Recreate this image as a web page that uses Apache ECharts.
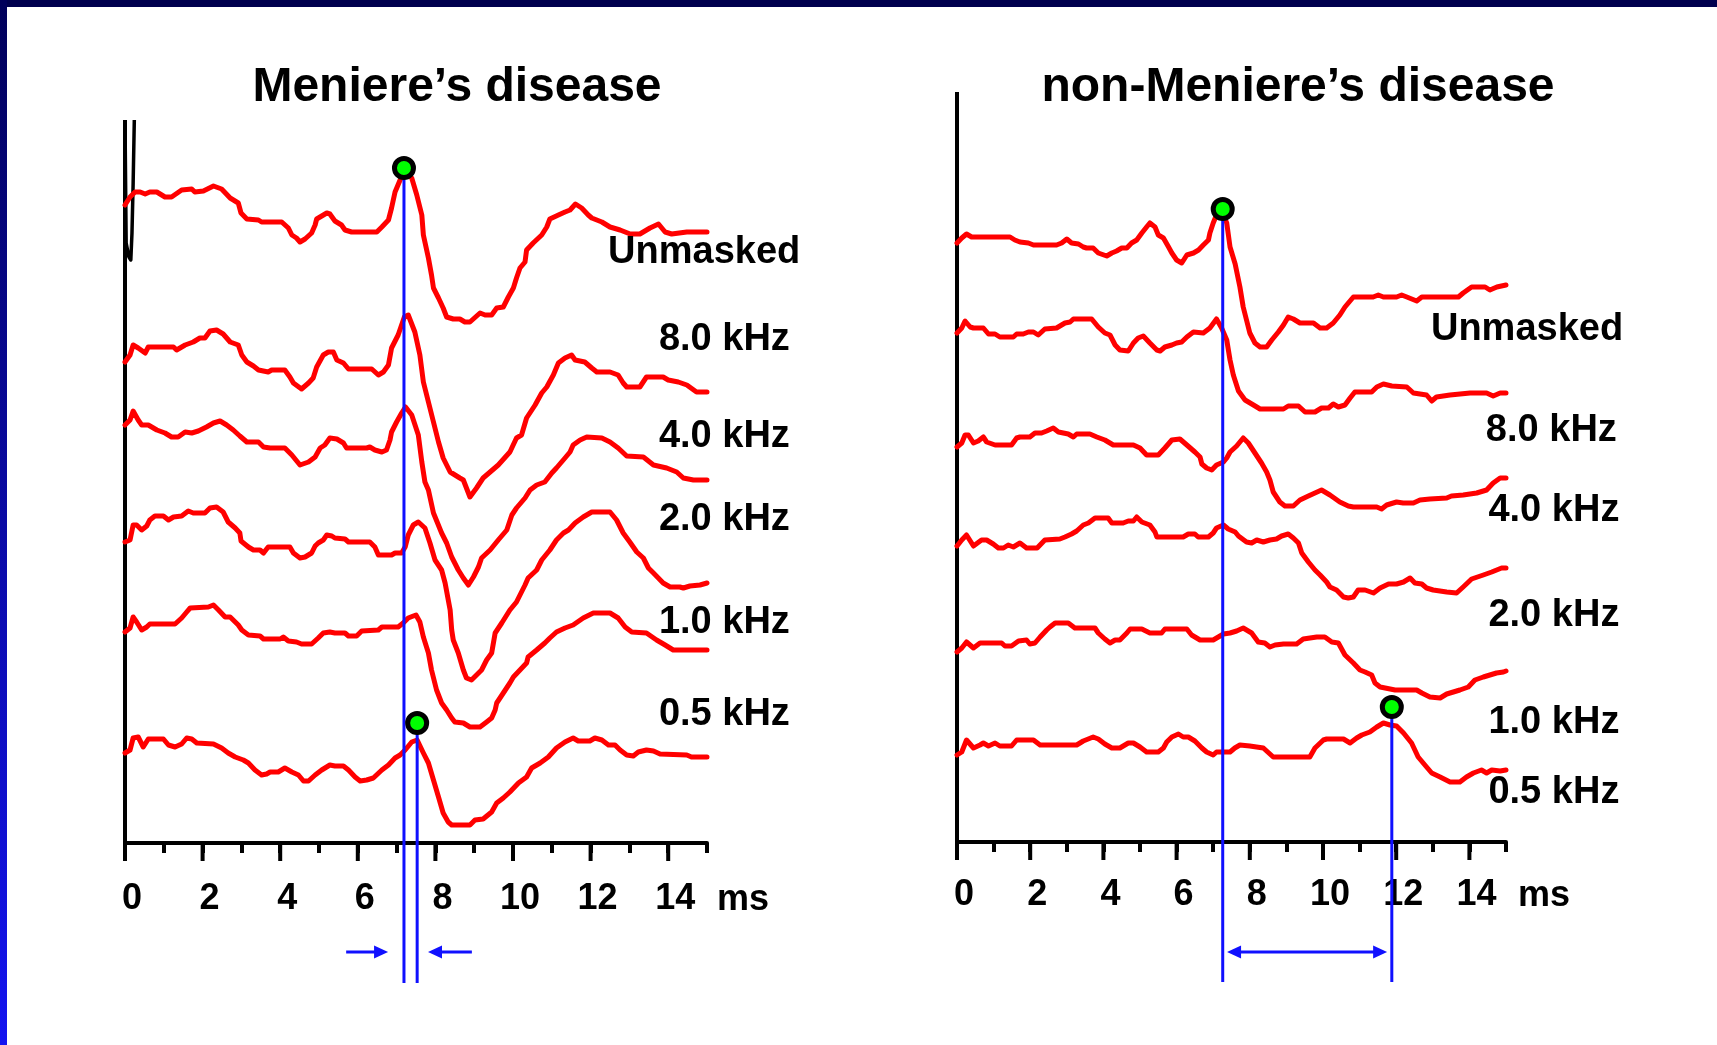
<!DOCTYPE html>
<html><head><meta charset="utf-8">
<script src="https://cdn.jsdelivr.net/npm/echarts/dist/echarts.min.js"></script>
<style>html,body{margin:0;padding:0;background:#fff;overflow:hidden}#c{width:1717px;height:1045px}</style>
</head><body><div id="c"></div>
<script>
// ---------- DATA (time in ms, amplitude in arbitrary units, traces stacked) ----------
const tickValues = [0, 2, 4, 6, 8, 10, 12, 14];
const traceLabels = ['Unmasked', '8.0 kHz', '4.0 kHz', '2.0 kHz', '1.0 kHz', '0.5 kHz'];
const panelTitles = ['Meniere\u2019s disease', 'non-Meniere\u2019s disease'];
const unitLabel = 'ms';

const mdUnmasked = [[0,63.8],[0.13,64.6],[0.26,65.1],[0.39,65.1],[0.52,64.9],[0.64,65.1],[0.82,65.1],[1.03,64.6],[1.2,64.6],[1.46,65.3],[1.72,65.4],[1.8,65.1],[2.02,65.2],[2.28,65.7],[2.49,65.4],[2.71,64.5],[2.92,64.0],[2.99,63.0],[3.14,62.4],[3.44,62.3],[3.52,62.1],[4.04,62.1],[4.21,61.5],[4.3,60.8],[4.42,60.5],[4.51,60.1],[4.64,60.4],[4.81,61.0],[4.9,61.8],[4.94,62.4],[5.07,62.7],[5.2,63.0],[5.28,62.9],[5.41,62.2],[5.58,61.8],[5.67,61.3],[5.84,61.1],[6.49,61.1],[6.62,61.6],[6.79,62.3],[6.87,63.5],[6.96,65.1],[7.09,66.3],[7.19,67.0],[7.39,66.5],[7.52,64.8],[7.65,62.8],[7.69,60.8],[7.82,58.5],[7.9,56.8],[7.95,55.5],[8.08,54.5],[8.2,53.5],[8.29,52.6],[8.46,52.4],[8.63,52.4],[8.76,52.1],[8.89,52.1],[9.15,53.0],[9.28,52.8],[9.45,52.8],[9.58,53.5],[9.75,53.6],[9.88,54.6],[10.01,55.5],[10.09,56.5],[10.18,57.5],[10.31,58.1],[10.35,59.3],[10.52,60.0],[10.74,60.8],[10.87,61.6],[10.95,62.4],[11.17,62.8],[11.34,63.1],[11.47,63.3],[11.61,63.9],[11.77,63.5],[11.94,62.8],[12.03,62.5],[12.29,62.1],[12.5,61.6],[12.76,61.3],[13.02,60.9],[13.27,60.9],[13.53,61.5],[13.75,61.9],[13.92,61.1],[14.09,60.9],[14.48,61.1],[15,61.1]];
const md8k = [[0,48.1],[0.13,48.8],[0.21,49.8],[0.34,49.5],[0.52,49.0],[0.6,49.6],[1.25,49.6],[1.33,49.3],[1.55,49.8],[1.76,50.1],[1.93,50.5],[2.06,50.5],[2.19,51.2],[2.36,51.3],[2.53,50.9],[2.71,50.1],[2.92,49.8],[3.01,48.8],[3.14,48.1],[3.31,47.7],[3.44,47.3],[3.69,47.1],[3.78,47.3],[4.12,47.3],[4.25,46.6],[4.34,46.0],[4.55,45.4],[4.73,46.0],[4.85,46.5],[4.94,47.6],[5.11,48.8],[5.24,49.1],[5.37,49.1],[5.46,48.3],[5.63,48.0],[5.76,47.4],[6.36,47.4],[6.53,46.8],[6.66,47.1],[6.79,47.8],[6.87,49.5],[7.04,50.8],[7.2,52.6],[7.3,52.8],[7.47,51.1],[7.6,48.8],[7.69,46.1],[7.82,44.1],[7.95,42.1],[8.08,40.1],[8.2,38.5],[8.38,37.1],[8.63,36.5],[8.72,36.3],[8.89,34.6],[9.06,35.5],[9.23,36.5],[9.32,36.8],[9.62,37.8],[9.92,39.1],[10.09,40.5],[10.22,40.8],[10.35,42.5],[10.57,43.8],[10.74,45.0],[10.87,45.6],[11.04,46.8],[11.17,48.0],[11.34,48.5],[11.51,48.8],[11.6,48.3],[11.85,48.1],[12.03,47.5],[12.16,47.1],[12.5,47.1],[12.71,46.8],[12.84,46.0],[12.93,45.6],[13.27,45.6],[13.44,46.6],[13.87,46.6],[14.0,46.3],[14.26,46.1],[14.48,45.8],[14.73,45.1],[15,45.1]];
const md4k = [[0,41.8],[0.13,42.3],[0.21,43.2],[0.34,42.3],[0.43,41.8],[0.6,41.8],[0.82,41.3],[1.03,41.0],[1.2,40.6],[1.37,40.6],[1.55,41.1],[1.72,41.0],[1.89,41.2],[2.1,41.6],[2.28,42.0],[2.45,42.2],[2.62,41.8],[2.79,41.3],[2.96,40.7],[3.14,40.1],[3.44,40.1],[3.57,39.6],[3.74,39.5],[4.12,39.5],[4.3,38.8],[4.51,37.8],[4.73,38.1],[4.9,38.6],[5.03,39.5],[5.15,39.8],[5.28,40.5],[5.46,40.4],[5.63,40.0],[5.71,39.5],[6.23,39.5],[6.31,39.6],[6.44,39.3],[6.62,39.1],[6.74,39.3],[6.83,40.3],[6.87,41.1],[7.0,42.1],[7.13,43.0],[7.23,43.6],[7.39,42.8],[7.56,40.8],[7.65,38.1],[7.73,36.1],[7.82,35.3],[7.95,33.0],[8.16,31.0],[8.29,30.0],[8.42,28.6],[8.59,27.3],[8.72,26.5],[8.85,25.8],[8.98,26.6],[9.11,27.6],[9.19,28.5],[9.41,29.3],[9.62,30.3],[9.84,31.3],[9.97,32.8],[10.09,33.5],[10.31,34.5],[10.44,35.3],[10.61,35.8],[10.82,36.1],[11.0,37.0],[11.12,37.5],[11.34,38.5],[11.47,39.1],[11.55,39.8],[11.73,40.3],[11.9,40.6],[12.29,40.5],[12.5,40.1],[12.71,39.5],[12.93,38.7],[13.36,38.6],[13.62,37.8],[13.96,37.5],[14.22,37.1],[14.39,36.5],[14.65,36.3],[15,36.3]];
const md2k = [[0,30.1],[0.13,30.3],[0.21,31.8],[0.3,31.8],[0.43,31.3],[0.56,31.7],[0.64,32.3],[0.77,32.7],[0.99,32.7],[1.12,32.3],[1.25,32.6],[1.46,32.7],[1.63,33.2],[1.76,33.0],[2.06,33.0],[2.19,33.5],[2.36,33.6],[2.53,33.1],[2.66,32.1],[2.84,31.5],[2.96,31.0],[2.99,30.2],[3.18,29.6],[3.31,29.3],[3.48,29.3],[3.57,29.0],[3.69,29.6],[4.25,29.6],[4.34,29.0],[4.51,28.5],[4.64,28.6],[4.81,29.0],[4.9,29.7],[4.98,30.0],[5.11,30.3],[5.2,30.8],[5.33,30.7],[5.41,30.5],[5.67,30.4],[5.76,30.1],[6.31,30.1],[6.44,29.6],[6.53,28.8],[6.87,28.8],[6.96,29.0],[7.13,29.0],[7.22,29.6],[7.3,30.8],[7.43,31.8],[7.56,32.1],[7.73,31.5],[7.86,30.0],[7.99,28.3],[8.16,27.3],[8.25,26.0],[8.38,23.3],[8.42,21.3],[8.46,20.3],[8.59,19.0],[8.72,17.3],[8.8,16.5],[8.93,16.3],[9.06,16.8],[9.19,17.3],[9.32,18.3],[9.45,19.0],[9.54,21.0],[9.71,22.0],[9.92,23.3],[10.09,24.1],[10.31,25.8],[10.39,26.5],[10.61,27.3],[10.74,28.3],[10.95,29.3],[11.12,30.3],[11.3,31.0],[11.43,31.3],[11.6,32.0],[11.81,32.6],[12.03,33.1],[12.5,33.1],[12.67,32.3],[12.84,31.0],[13.01,30.1],[13.19,29.1],[13.36,28.5],[13.49,27.5],[13.62,27.0],[13.87,26.0],[14.05,25.6],[14.3,25.6],[14.39,25.5],[14.56,25.7],[14.82,25.8],[15,26.0]];
const md1k = [[0,21.1],[0.13,21.5],[0.21,22.6],[0.3,22.1],[0.43,21.3],[0.56,21.6],[0.64,21.9],[1.29,21.9],[1.46,22.5],[1.59,23.1],[1.68,23.5],[2.15,23.6],[2.28,23.8],[2.41,23.3],[2.58,22.6],[2.71,22.6],[2.92,21.8],[3.01,21.3],[3.18,20.8],[3.48,20.7],[3.57,20.4],[4.0,20.4],[4.08,20.6],[4.21,20.2],[4.42,20.1],[4.55,19.9],[4.81,19.9],[4.98,20.5],[5.11,21.0],[5.28,21.1],[5.41,21.0],[5.67,21.0],[5.76,20.7],[5.97,20.7],[6.1,21.2],[6.53,21.3],[6.62,21.6],[7.04,21.6],[7.17,22.0],[7.3,22.5],[7.43,22.7],[7.5,22.8],[7.6,22.1],[7.69,20.6],[7.82,19.0],[7.9,17.3],[8.03,15.3],[8.16,14.0],[8.29,13.3],[8.42,12.5],[8.5,12.1],[8.72,12.0],[8.89,11.6],[9.15,11.6],[9.32,12.1],[9.45,12.5],[9.54,13.3],[9.58,14.0],[9.75,15.0],[9.92,16.0],[10.01,16.6],[10.18,17.3],[10.35,18.0],[10.39,18.6],[10.61,19.3],[10.82,20.0],[10.95,20.5],[11.12,21.1],[11.34,21.5],[11.55,21.8],[11.81,22.5],[12.07,23.0],[12.5,23.0],[12.71,22.5],[12.89,21.6],[13.06,21.1],[13.44,21.0],[13.7,20.3],[13.92,19.8],[14.13,19.3],[15,19.3]];
const md05k = [[0,9.0],[0.13,9.3],[0.21,10.5],[0.34,10.6],[0.47,9.6],[0.6,10.4],[0.99,10.4],[1.12,9.8],[1.29,9.6],[1.46,9.9],[1.59,10.5],[1.72,10.4],[1.85,10.0],[2.28,9.9],[2.49,9.5],[2.66,9.0],[2.84,8.6],[3.05,8.3],[3.18,8.0],[3.35,7.3],[3.52,6.8],[3.65,6.9],[3.74,7.1],[3.95,7.1],[4.12,7.5],[4.3,7.1],[4.47,6.8],[4.6,6.2],[4.73,6.2],[4.9,6.8],[5.07,7.3],[5.28,7.8],[5.41,7.7],[5.63,7.7],[5.76,7.3],[5.93,6.6],[6.06,6.2],[6.23,6.3],[6.4,6.5],[6.62,7.3],[6.79,7.8],[6.96,8.5],[7.09,8.8],[7.22,9.3],[7.39,10.1],[7.53,10.3],[7.69,9.0],[7.82,8.0],[7.95,6.3],[8.08,4.6],[8.2,3.0],[8.33,2.1],[8.42,1.8],[8.89,1.8],[9.02,2.3],[9.23,2.4],[9.45,3.1],[9.58,4.0],[9.75,4.5],[9.92,5.1],[10.14,6.0],[10.35,6.6],[10.48,7.5],[10.7,8.0],[10.91,8.6],[11.12,9.5],[11.34,10.1],[11.55,10.5],[11.68,10.2],[11.98,10.2],[12.11,10.5],[12.29,10.3],[12.46,9.8],[12.63,9.8],[12.76,9.3],[12.93,8.8],[13.1,8.7],[13.23,9.1],[13.44,9.3],[13.62,9.2],[13.79,8.9],[14.48,8.8],[14.6,8.6],[15,8.6]];
const mdArtifact = [[0,72.3],[0.03,60.0],[0.1,58.6],[0.15,58.3],[0.18,61.0],[0.21,66.0],[0.24,72.3]];
const mdPeaks = [[7.19, 67.5], [7.53, 12.0]];

const nmdUnmasked = [[0,59.9],[0.13,60.4],[0.26,60.8],[0.4,60.5],[1.45,60.5],[1.58,60.2],[1.72,60.0],[1.95,59.9],[2.09,59.7],[2.72,59.7],[2.86,59.9],[3.0,60.3],[3.13,59.9],[3.32,59.8],[3.45,59.5],[3.54,59.4],[3.72,59.4],[3.86,58.9],[4.09,58.6],[4.23,58.9],[4.36,59.1],[4.5,59.4],[4.64,59.4],[4.77,59.9],[4.91,60.2],[5.05,60.9],[5.18,61.5],[5.27,61.9],[5.41,61.5],[5.5,60.7],[5.64,60.4],[5.78,59.5],[5.87,58.9],[6.0,58.2],[6.14,57.9],[6.28,58.7],[6.46,58.9],[6.6,59.2],[6.73,59.7],[6.87,60.2],[6.91,60.9],[7.0,61.9],[7.09,62.7],[7.24,63.0],[7.37,61.9],[7.46,59.5],[7.6,57.8],[7.73,55.5],[7.82,53.5],[7.91,52.2],[8.0,50.9],[8.14,49.9],[8.28,49.5],[8.46,49.5],[8.6,50.2],[8.78,51.0],[8.92,51.7],[9.05,52.5],[9.19,52.3],[9.37,51.9],[9.74,51.9],[9.92,51.4],[10.1,51.4],[10.28,51.9],[10.46,52.7],[10.6,53.5],[10.83,54.5],[11.37,54.5],[11.51,54.7],[11.65,54.5],[12.01,54.5],[12.15,54.7],[12.29,54.5],[12.56,54.1],[12.7,54.5],[13.7,54.5],[13.83,54.9],[14.06,55.5],[14.43,55.5],[14.56,55.2],[14.75,55.5],[15,55.7]];
const nmd8k = [[0,50.9],[0.13,51.4],[0.22,52.1],[0.36,51.5],[0.45,51.4],[0.72,51.4],[0.86,50.8],[1.04,50.8],[1.17,50.5],[1.54,50.5],[1.63,50.8],[1.81,50.8],[1.95,51.0],[2.09,51.0],[2.22,50.7],[2.4,51.3],[2.72,51.4],[2.95,51.9],[3.09,52.0],[3.18,52.3],[3.68,52.3],[3.86,51.5],[4.04,50.9],[4.18,50.7],[4.32,49.7],[4.45,49.2],[4.68,49.1],[4.82,49.9],[4.95,50.4],[5.09,50.6],[5.27,49.9],[5.46,49.2],[5.55,49.1],[5.68,49.5],[5.87,49.7],[6.0,49.9],[6.14,50.0],[6.28,50.5],[6.46,51.0],[6.73,50.9],[6.91,51.4],[7.09,52.3],[7.23,51.4],[7.37,50.2],[7.46,48.2],[7.55,46.7],[7.69,45.1],[7.87,44.2],[8.1,43.7],[8.28,43.3],[8.92,43.3],[9.05,43.6],[9.33,43.6],[9.51,43.0],[9.78,43.0],[9.96,43.4],[10.15,43.4],[10.28,43.8],[10.42,43.5],[10.6,43.7],[10.74,44.4],[10.87,45.0],[11.33,45.0],[11.47,45.5],[11.65,45.8],[11.88,45.6],[12.29,45.5],[12.47,44.9],[12.83,44.7],[12.97,44.1],[13.1,44.5],[13.47,44.7],[14.02,44.9],[14.47,44.9],[14.65,44.6],[14.84,44.9],[15,44.9]];
const nmd4k = [[0,39.5],[0.13,39.9],[0.22,40.7],[0.31,40.7],[0.45,39.9],[0.58,40.1],[0.72,40.5],[0.81,40.0],[1.04,39.7],[1.49,39.7],[1.63,40.4],[1.72,40.5],[1.99,40.5],[2.13,40.9],[2.31,40.9],[2.45,41.1],[2.63,41.4],[2.77,41.0],[3.04,40.8],[3.18,40.5],[3.27,40.8],[3.63,40.8],[3.82,40.5],[4.04,40.2],[4.27,39.7],[4.82,39.7],[5.0,39.4],[5.18,38.7],[5.5,38.7],[5.68,39.4],[5.87,40.2],[6.09,40.3],[6.28,39.7],[6.5,39.0],[6.64,38.5],[6.69,37.8],[6.82,37.4],[6.96,37.2],[7.09,37.7],[7.28,38.0],[7.37,38.4],[7.46,39.0],[7.64,39.6],[7.82,40.4],[7.96,39.9],[8.14,38.9],[8.32,37.9],[8.46,37.0],[8.55,36.2],[8.64,35.0],[8.82,34.0],[8.96,33.6],[9.19,33.6],[9.37,34.2],[9.6,34.6],[9.78,34.9],[9.96,35.2],[10.19,34.7],[10.46,34.0],[10.69,33.6],[10.83,33.5],[11.47,33.5],[11.6,33.3],[11.74,33.7],[12.01,34.0],[12.19,33.9],[12.47,33.9],[12.65,34.2],[12.92,34.3],[13.38,34.4],[13.51,34.6],[13.83,34.7],[14.2,34.9],[14.47,35.2],[14.65,35.9],[14.84,36.4],[15,36.4]];
const nmd2k = [[0,29.6],[0.13,30.2],[0.26,30.7],[0.45,29.6],[0.67,30.2],[0.81,30.2],[0.99,29.8],[1.13,29.4],[1.27,29.4],[1.4,29.7],[1.54,29.5],[1.72,29.9],[1.9,29.4],[2.19,29.4],[2.4,30.2],[2.81,30.3],[2.95,30.5],[3.13,30.8],[3.27,31.1],[3.45,31.7],[3.59,31.9],[3.77,32.4],[4.13,32.4],[4.23,31.9],[4.54,31.9],[4.68,32.1],[4.82,32.1],[4.91,32.5],[5.05,32.0],[5.27,31.7],[5.41,31.0],[5.46,30.5],[6.18,30.5],[6.32,30.8],[6.5,30.8],[6.59,30.5],[6.87,30.5],[7.0,30.9],[7.09,31.4],[7.28,31.7],[7.41,31.3],[7.6,31.0],[7.69,30.6],[7.91,30.0],[8.05,29.9],[8.19,30.2],[8.37,30.0],[8.55,30.2],[8.73,30.3],[8.87,30.6],[9.05,30.8],[9.19,30.4],[9.33,29.9],[9.42,28.9],[9.6,28.0],[9.78,27.2],[9.92,26.7],[10.1,26.0],[10.19,25.5],[10.37,25.2],[10.56,24.5],[10.69,24.4],[10.83,24.5],[10.96,25.2],[11.15,25.2],[11.38,24.9],[11.56,25.4],[11.79,25.8],[12.01,25.8],[12.2,26.0],[12.38,26.4],[12.51,25.9],[12.7,25.8],[12.83,25.4],[13.01,25.2],[13.38,25.0],[13.65,24.9],[13.83,25.5],[14.06,26.3],[14.38,26.7],[14.61,27.0],[14.88,27.4],[15,27.4]];
const nmd1k = [[0,19.0],[0.13,19.4],[0.26,20.0],[0.45,19.4],[0.63,19.9],[1.22,19.9],[1.31,19.6],[1.49,19.6],[1.68,20.1],[1.9,20.2],[1.99,19.8],[2.13,19.9],[2.27,20.5],[2.45,21.2],[2.54,21.5],[2.68,21.9],[3.04,21.9],[3.22,21.4],[3.77,21.4],[3.86,20.9],[4.04,20.3],[4.18,19.9],[4.32,20.2],[4.45,20.2],[4.64,20.9],[4.73,21.3],[5.05,21.3],[5.27,20.9],[5.59,20.9],[5.68,21.3],[6.28,21.3],[6.41,20.7],[6.64,20.2],[7.0,20.2],[7.14,20.5],[7.28,20.8],[7.46,20.9],[7.64,21.1],[7.82,21.4],[8.05,20.9],[8.23,20.0],[8.41,19.9],[8.55,19.5],[8.69,19.7],[8.92,19.8],[9.28,19.8],[9.46,20.3],[9.83,20.5],[10.05,20.5],[10.24,20.0],[10.42,19.9],[10.6,18.7],[10.83,17.9],[11.01,17.2],[11.15,17.0],[11.33,16.7],[11.42,15.9],[11.56,15.5],[11.97,15.2],[12.56,15.2],[12.7,14.9],[12.92,14.5],[13.2,14.4],[13.38,14.8],[13.56,15.0],[13.74,15.2],[13.97,15.5],[14.15,16.2],[14.38,16.5],[14.56,16.7],[14.74,16.9],[14.93,17.0],[15,17.1]];
const nmd05k = [[0,8.7],[0.13,9.0],[0.26,10.2],[0.45,9.4],[0.63,9.7],[0.72,9.9],[0.86,9.6],[1.04,9.9],[1.17,9.6],[1.49,9.6],[1.63,10.2],[2.09,10.2],[2.27,9.7],[3.27,9.7],[3.45,10.1],[3.72,10.5],[3.86,10.3],[4.04,9.8],[4.23,9.4],[4.45,9.4],[4.68,9.9],[4.82,9.9],[5.0,9.5],[5.18,9.0],[5.5,9.0],[5.64,9.4],[5.73,10.0],[5.87,10.5],[6.05,10.8],[6.18,10.5],[6.32,10.5],[6.5,10.1],[6.69,9.4],[6.82,9.0],[7.0,8.7],[7.09,9.0],[7.46,9.0],[7.59,9.4],[7.73,9.7],[8.0,9.6],[8.37,9.4],[8.64,8.5],[9.64,8.5],[9.78,9.4],[10.01,10.2],[10.1,10.3],[10.56,10.3],[10.74,9.9],[10.92,10.4],[11.06,10.7],[11.28,11.0],[11.47,11.5],[11.65,11.9],[11.83,11.7],[12.01,11.6],[12.2,10.9],[12.42,9.9],[12.6,8.5],[12.83,7.5],[12.97,6.9],[13.2,6.5],[13.47,6.0],[13.74,6.0],[13.92,6.5],[14.11,6.9],[14.33,7.2],[14.47,6.9],[14.61,7.2],[14.84,7.1],[15,7.2]];
const nmdPeaks = [[7.26, 63.3], [11.88, 13.5]];

// ---------- BUILD ----------
const FONT = '"Liberation Sans", Arial, sans-serif';
const RED = '#ff0000', BLUE = '#1010ff';
const X_MAX = 15, LINE_BOTTOM = -14;

const panels = [
  { traces: [mdUnmasked, md8k, md4k, md2k, md1k, md05k], peaks: mdPeaks, yTop: 72.3,
    grid: { left: 125, top: 120, width: 582, height: 723 }, labelMargin: 38,
    labelAt: [[12.45,59.0],[13.76,50.3],[13.76,40.6],[13.76,32.3],[13.76,22.0],[13.76,12.8]],
    unitAt: [15.26, -5.7],
    arrows: [{ from: 5.7, to: 6.6, y: -10.9, tipDir: [-90] },
             { from: 8.94, to: 7.99, y: -10.9, tipDir: [90] }],
    artifact: mdArtifact, titleX: 457 },
  { traces: [nmdUnmasked, nmd8k, nmd4k, nmd2k, nmd1k, nmd05k], peaks: nmdPeaks, yTop: 75,
    grid: { left: 957, top: 92, width: 549, height: 750 }, labelMargin: 35,
    labelAt: [[12.95,51.2],[14.45,41.1],[14.52,33.1],[14.52,22.6],[14.52,11.9],[14.52,4.9]],
    unitAt: [15.33, -5.4],
    arrows: [{ from: 7.57, to: 11.56, y: -11.0, tipDir: [90, -90] }],
    artifact: null, titleX: 1298 }
];

const grids = [], xAxes = [], yAxes = [], series = [];
const axisFont = { fontFamily: FONT, fontWeight: 'bold', color: '#000' };

panels.forEach((p, gi) => {
  grids.push(Object.assign({ containLabel: false, outerBoundsMode: 'none' }, p.grid));
  xAxes.push({
    type: 'value', gridIndex: gi, min: 0, max: X_MAX, interval: 1,
    axisLine: { onZero: false, lineStyle: { color: '#000', width: 4 } },
    axisTick: { show: true, length: 10, lineStyle: { color: '#000', width: 4 } },
    axisLabel: Object.assign({ fontSize: 36, margin: p.labelMargin, padding: [0,0,0,14],
      formatter: v => tickValues.indexOf(v) >= 0 ? String(v) : '' }, axisFont),
    splitLine: { show: false }
  });
  yAxes.push({ type: 'value', gridIndex: gi, min: 0, max: p.yTop, show: false });

  const ax = { xAxisIndex: gi, yAxisIndex: gi, silent: true, animation: false };
  // y axis line
  series.push(Object.assign({ type: 'line', data: [[0, 0], [0, p.yTop]], symbol: 'none', clip: false,
    lineStyle: { color: '#000', width: 4 }, z: 2 }, ax));
  // major (long) ticks
  series.push(Object.assign({ type: 'scatter', data: tickValues.map(v => [v, 0]), symbol: 'rect',
    symbolSize: [4, 18], symbolOffset: [0, 9], itemStyle: { color: '#000', opacity: 1 }, clip: false, z: 2 }, ax));
  if (p.artifact) {
    series.push(Object.assign({ type: 'line', data: p.artifact, symbol: 'none', clip: false,
      lineStyle: { color: '#000', width: 3.5, join: 'round' }, z: 2 }, ax));
  }
  // traces
  p.traces.forEach(tr => {
    series.push(Object.assign({ type: 'line', data: tr, symbol: 'none', clip: false,
      lineStyle: { color: RED, width: 5, join: 'round', cap: 'round' }, z: 3 }, ax));
  });
  // blue latency lines
  p.peaks.forEach(pk => {
    series.push(Object.assign({ type: 'line', data: [[pk[0], LINE_BOTTOM], [pk[0], pk[1]]], symbol: 'none', clip: false,
      lineStyle: { color: BLUE, width: 3 }, z: 4 }, ax));
  });
  // arrows: shafts + heads
  p.arrows.forEach(a => {
    series.push(Object.assign({ type: 'line', data: [[a.from, a.y], [a.to, a.y]], symbol: 'none', clip: false,
      lineStyle: { color: BLUE, width: 3 }, z: 4 }, ax));
    const heads = a.tipDir.length === 2 ? [[a.from, a.y, a.tipDir[0]], [a.to, a.y, a.tipDir[1]]] : [[a.to, a.y, a.tipDir[0]]];
    heads.forEach(h => {
      series.push(Object.assign({ type: 'scatter', data: [[h[0], h[1]]], symbol: 'triangle', symbolSize: [13, 14],
        symbolRotate: h[2], itemStyle: { color: BLUE, opacity: 1 }, clip: false, z: 4 }, ax));
    });
  });
  // peak markers
  series.push(Object.assign({ type: 'scatter', data: p.peaks, symbol: 'circle', symbolSize: 19,
    itemStyle: { color: '#00ff00', borderColor: '#000', borderWidth: 5, opacity: 1 }, clip: false, z: 10 }, ax));
});

const chart = echarts.init(document.getElementById('c'), null, { renderer: 'canvas' });
chart.setOption({
  animation: false,
  backgroundColor: '#ffffff',
  grid: grids, xAxis: xAxes, yAxis: yAxes, series: series
});

// texts positioned through the chart's own scales
const texts = [];
panels.forEach((p, gi) => {
  p.labelAt.forEach((a, i) => {
    const px = chart.convertToPixel({ gridIndex: gi }, a);
    texts.push({ type: 'text', x: px[0], y: px[1], z: 100,
      style: { text: traceLabels[i], fill: '#000', font: 'bold 38px ' + FONT, align: 'left', verticalAlign: 'middle' } });
  });
  const u = chart.convertToPixel({ gridIndex: gi }, p.unitAt);
  texts.push({ type: 'text', x: u[0], y: u[1], z: 100,
    style: { text: unitLabel, fill: '#000', font: 'bold 36px ' + FONT, align: 'left', verticalAlign: 'middle' } });
  texts.push({ type: 'text', x: p.titleX, y: 88, z: 100,
    style: { text: panelTitles[gi], fill: '#000', font: 'bold 48px ' + FONT, align: 'center', verticalAlign: 'middle' } });
});
texts.push({ type: 'rect', shape: { x: 0, y: 0, width: 1717, height: 7 }, style: { fill: '#00004e' }, z: 100 });
texts.push({ type: 'rect', shape: { x: 0, y: 0, width: 7, height: 1045 }, z: 100,
  style: { fill: new echarts.graphic.LinearGradient(0, 0, 0, 1, [{ offset: 0, color: '#00005a' }, { offset: 1, color: '#1414f0' }]) } });
chart.setOption({ graphic: texts });
</script></body></html>
